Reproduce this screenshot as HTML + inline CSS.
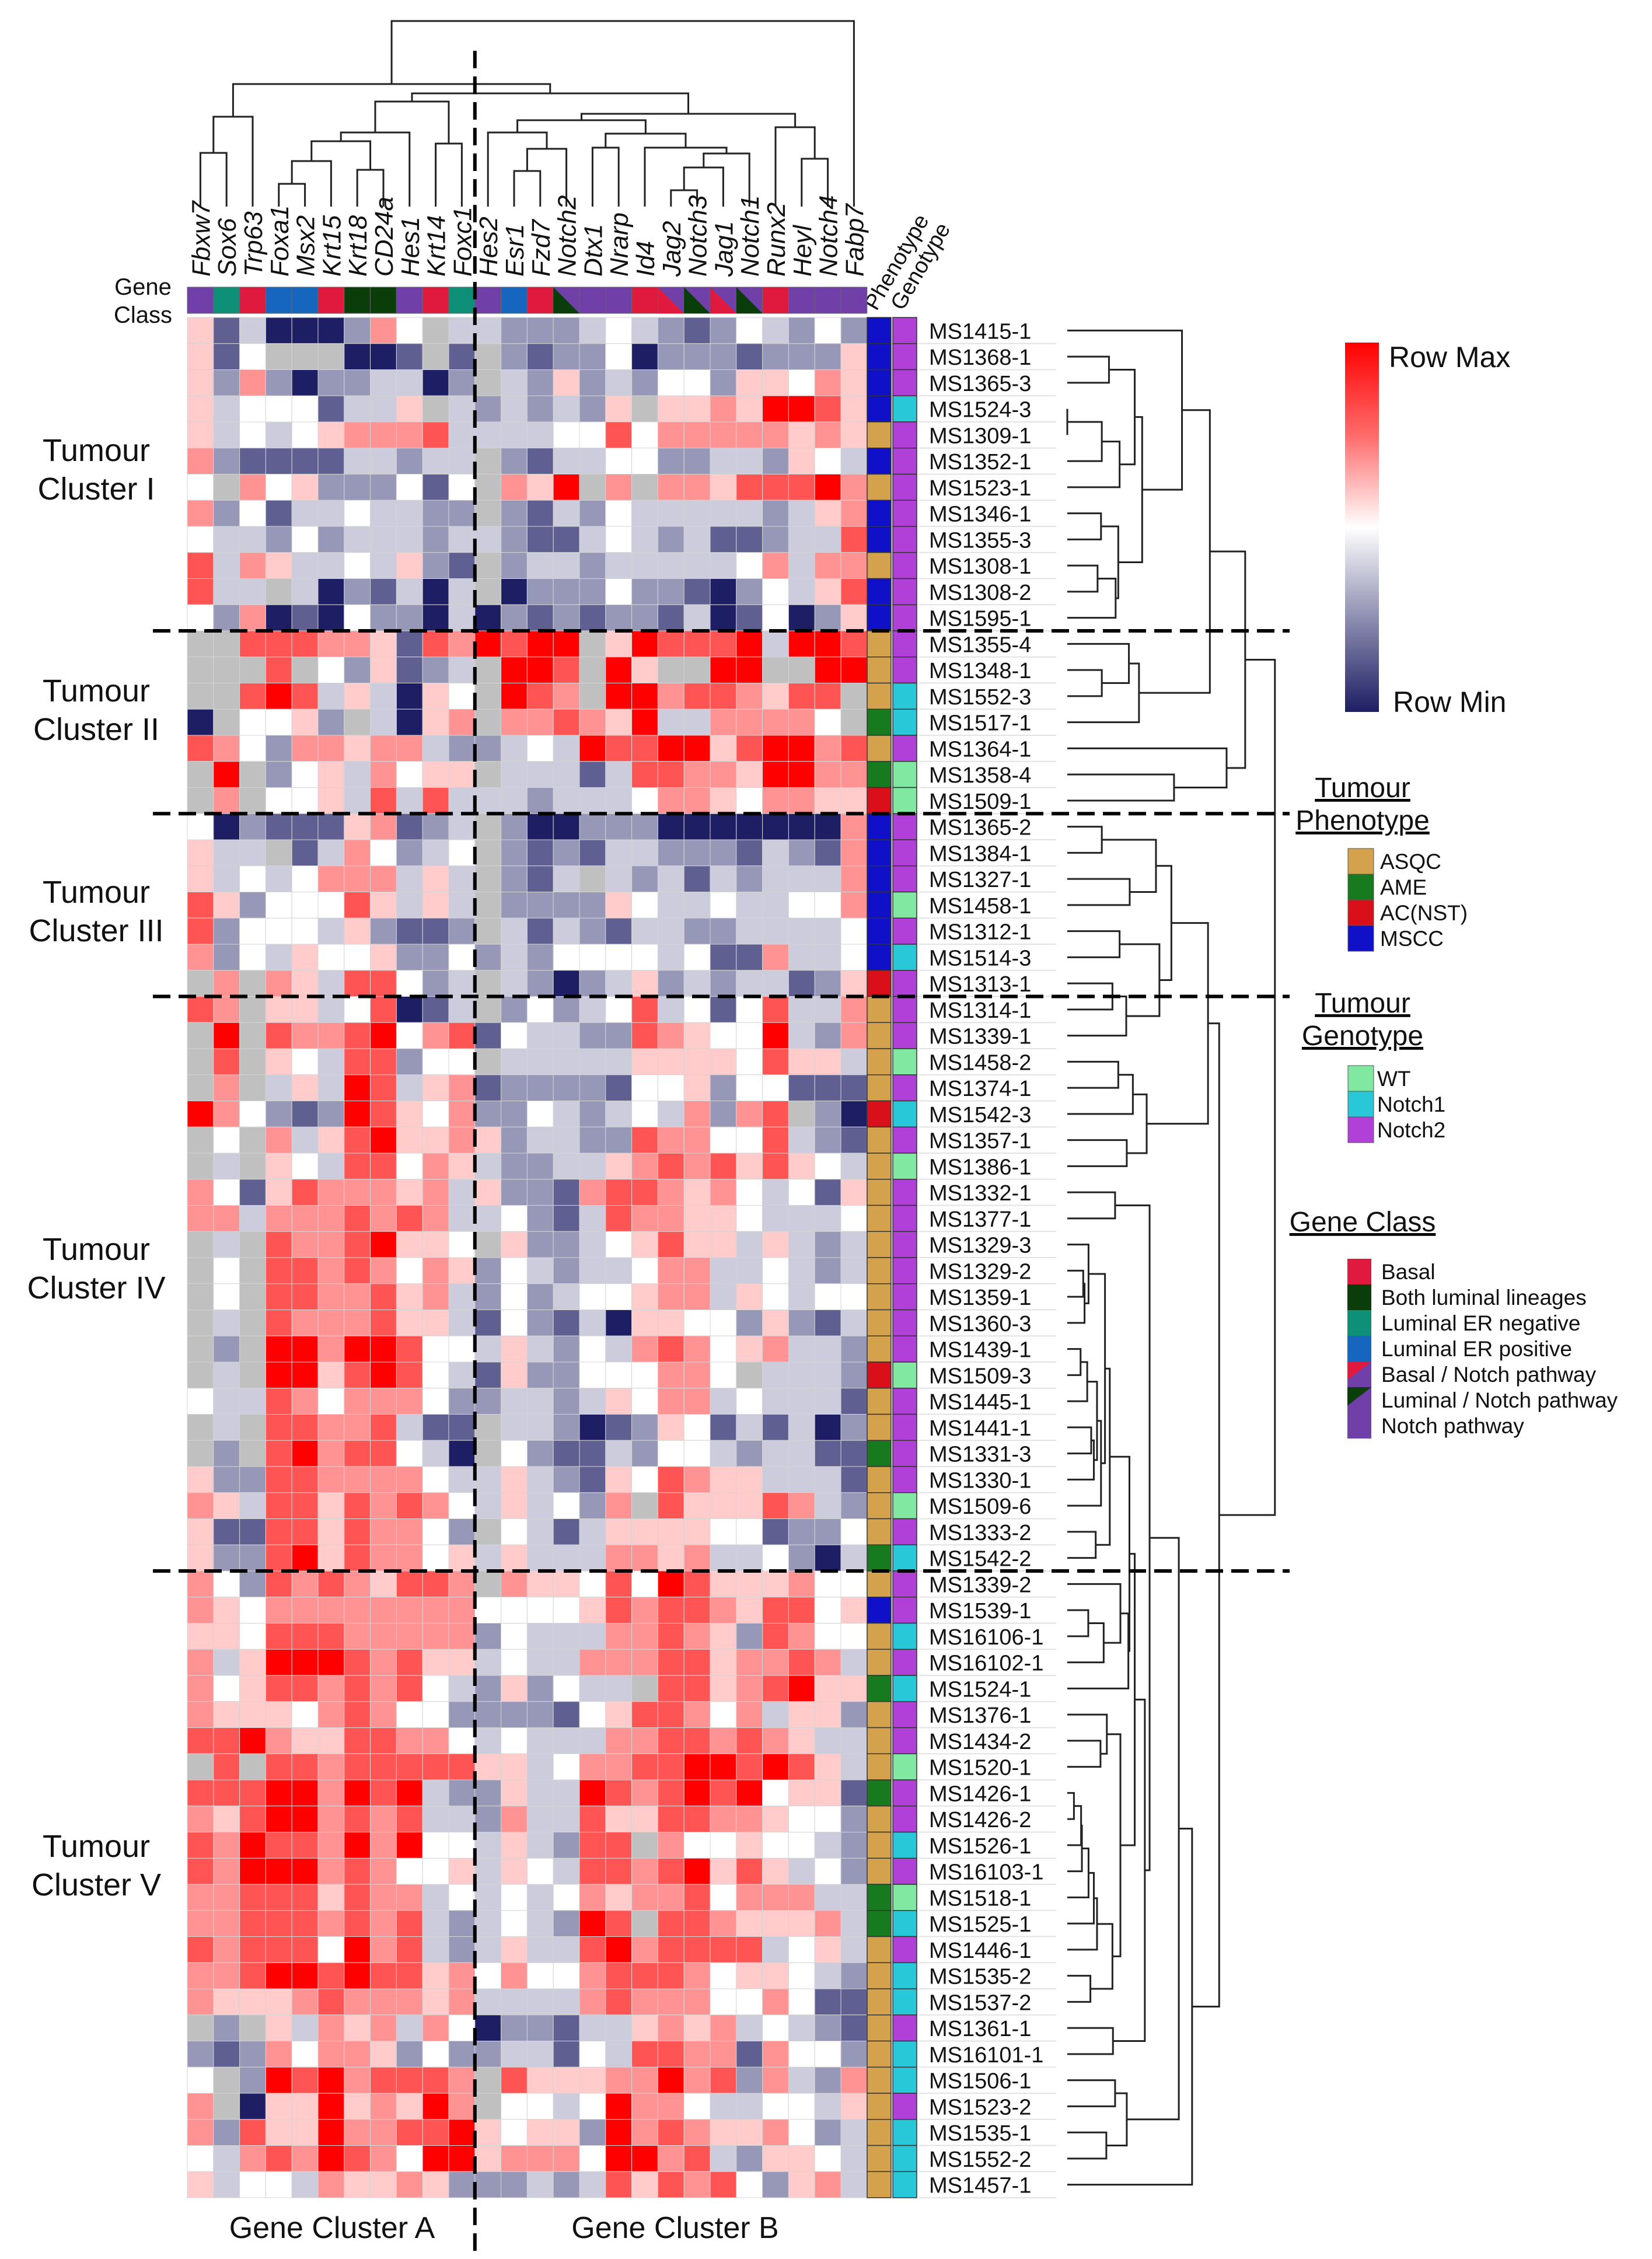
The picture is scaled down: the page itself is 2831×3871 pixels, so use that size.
<!DOCTYPE html>
<html><head><meta charset="utf-8"><style>
html,body{margin:0;padding:0;background:#fff}
svg{display:block}
text{font-family:"Liberation Sans",sans-serif;fill:#111}
</style></head><body>
<svg id="fig" width="2831" height="3871" viewBox="0 0 2831 3871" xmlns="http://www.w3.org/2000/svg">
<g id="left-labels" font-size="54" text-anchor="middle">
<text x="245" y="505" font-size="40">Gene</text>
<text x="245" y="553" font-size="40">Class</text>
<text x="165" y="790">Tumour</text>
<text x="165" y="856">Cluster I</text>
<text x="165" y="1202">Tumour</text>
<text x="165" y="1268">Cluster II</text>
<text x="165" y="1547">Tumour</text>
<text x="165" y="1613">Cluster III</text>
<text x="165" y="2159">Tumour</text>
<text x="165" y="2225">Cluster IV</text>
<text x="165" y="3182">Tumour</text>
<text x="165" y="3248">Cluster V</text>
<text x="569" y="3835" font-size="52">Gene Cluster A</text>
<text x="1157" y="3835" font-size="52">Gene Cluster B</text>
</g>
<g id="legend">
<defs><linearGradient id="cb" x1="0" y1="0" x2="0" y2="1">
<stop offset="0" stop-color="#ff0000"/><stop offset="0.25" stop-color="#ff6a6a"/><stop offset="0.5" stop-color="#ffffff"/><stop offset="0.75" stop-color="#8c8cb0"/><stop offset="1" stop-color="#1e1e64"/></linearGradient></defs>
<rect x="2305" y="587" width="58" height="633" fill="url(#cb)"/>
<text x="2380" y="629" font-size="50">Row Max</text>
<text x="2387" y="1220" font-size="50">Row Min</text>
<g font-size="48" text-anchor="middle" text-decoration="underline">
<text x="2335" y="1366">Tumour</text>
<text x="2335" y="1422">Phenotype</text>
<text x="2335" y="1735">Tumour</text>
<text x="2335" y="1791">Genotype</text>
<text x="2335" y="2110">Gene Class</text>
</g>
<g font-size="37">
<rect x="2310" y="1454" width="44" height="44" fill="#d4a24c" stroke="#555"/><text x="2365" y="1489">ASQC</text>
<rect x="2310" y="1498" width="44" height="44" fill="#177a1f" stroke="#555"/><text x="2365" y="1533">AME</text>
<rect x="2310" y="1542" width="44" height="44" fill="#d9101a" stroke="#555"/><text x="2365" y="1577">AC(NST)</text>
<rect x="2310" y="1586" width="44" height="44" fill="#1010c8" stroke="#555"/><text x="2365" y="1621">MSCC</text>
<rect x="2310" y="1826" width="44" height="44" fill="#80e8a0" stroke="#555"/><text x="2360" y="1861">WT</text>
<rect x="2310" y="1870" width="44" height="44" fill="#28c8d8" stroke="#555"/><text x="2360" y="1905">Notch1</text>
<rect x="2310" y="1914" width="44" height="44" fill="#b040d8" stroke="#555"/><text x="2360" y="1949">Notch2</text>
<rect x="2309" y="2157" width="41" height="44" fill="#e0193f"/><text x="2367" y="2192">Basal</text>
<rect x="2309" y="2201" width="41" height="44" fill="#0a3d0a"/><text x="2367" y="2236">Both luminal lineages</text>
<rect x="2309" y="2245" width="41" height="44" fill="#0e8f78"/><text x="2367" y="2280">Luminal ER negative</text>
<rect x="2309" y="2289" width="41" height="44" fill="#1666c0"/><text x="2367" y="2324">Luminal ER positive</text>
<rect x="2309" y="2333" width="41" height="44" fill="#7040a8"/><polygon points="2309,2333 2350,2333 2309,2365" fill="#e0193f"/><text x="2367" y="2368">Basal / Notch pathway</text>
<rect x="2309" y="2377" width="41" height="44" fill="#7040a8"/><polygon points="2309,2377 2350,2377 2309,2409" fill="#0a3d0a"/><text x="2367" y="2412">Luminal / Notch pathway</text>
<rect x="2309" y="2421" width="41" height="44" fill="#7040a8"/><text x="2367" y="2456">Notch pathway</text>
</g>
<text transform="translate(1502,534) rotate(-60)" font-size="38">Phenotype</text>
<text transform="translate(1547,534) rotate(-60)" font-size="38">Genotype</text>
</g>
<g id="heat"></g>
<g id="annot"></g>
<g id="labels"></g>
<g id="gdend"></g>
<g id="sdend"></g>
<g id="glabels"></g>
<g id="dash"></g>
</svg>
<script>
const genes=["Fbxw7","Sox6","Trp63","Foxa1","Msx2","Krt15","Krt18","CD24a","Hes1","Krt14","Foxc1","Hes2","Esr1","Fzd7","Notch2","Dtx1","Nrarp","Id4","Jag2","Notch3","Jag1","Notch1","Runx2","Heyl","Notch4","Fabp7"];
const geneClass=["N","En","B","Ep","Ep","B","L","L","N","B","En","N","Ep","B","LN","N","N","B","BN","LN","BN","LN","B","N","N","N"];
const samples=["MS1415-1","MS1368-1","MS1365-3","MS1524-3","MS1309-1","MS1352-1","MS1523-1","MS1346-1","MS1355-3","MS1308-1","MS1308-2","MS1595-1","MS1355-4","MS1348-1","MS1552-3","MS1517-1","MS1364-1","MS1358-4","MS1509-1","MS1365-2","MS1384-1","MS1327-1","MS1458-1","MS1312-1","MS1514-3","MS1313-1","MS1314-1","MS1339-1","MS1458-2","MS1374-1","MS1542-3","MS1357-1","MS1386-1","MS1332-1","MS1377-1","MS1329-3","MS1329-2","MS1359-1","MS1360-3","MS1439-1","MS1509-3","MS1445-1","MS1441-1","MS1331-3","MS1330-1","MS1509-6","MS1333-2","MS1542-2","MS1339-2","MS1539-1","MS16106-1","MS16102-1","MS1524-1","MS1376-1","MS1434-2","MS1520-1","MS1426-1","MS1426-2","MS1526-1","MS16103-1","MS1518-1","MS1525-1","MS1446-1","MS1535-2","MS1537-2","MS1361-1","MS16101-1","MS1506-1","MS1523-2","MS1535-1","MS1552-2","MS1457-1"];
const phenotypeRuns=["MMMM","A","M","A","MM","A","MM","AAA","E","A","E","C","MMMMMM","C","AAAA","C","AAAAAAAAA","C","AA","E","AAA","E","A","M","AA","E","AAA","E","AAA","EE","AAAAAAAAAA"];
const genotypeRuns=["222","1","2222222222","11","2","00","222","0","2","1","222","0","2","1","2","0","2222222","0","2222","0","2","1","22","1","2","1","22","0","22","1","2","0","1","2","11","2","11","2","111"];
// expression level per row: 0=row min (navy) .. 4=white .. 8=row max (red), x=missing
const expr=["513000264x3322234321243242","514xxx001x1x21224022212225","52620223302x32523244255465","534441335x3232325x55658875","53434566673333447466666565","62111133233x21334422332543","4x645222414x658x6x66577786","62413343322x21324333332356","43324233323321134323112337","73653343521x23323333346366","733x3021303x02224221024357","42601042203021212213014025","xx7776651768788x5877783887","xxx7x425123x887x85xx88xx88","xx787353054x876x886776577x","0x4452x3056x6676583366664x","76426656632234387788578867","x8x24536455x33313776658866","x6x44537373332333466546655","40211156123x20022200000006","533x1364234x21213322213216","53434666353x213x3231323336","75244475353x22225433433446","72444352112x31321332233334","62435445224232444434116334","x6x65377423x32023523233125","76x55347013x24234734147336","x8x76678467143322765448326","x7x54377244x33333555547553","x6x35387356122221445244111","86421287546224323436267x20","x4x63578556523322766447321","x3x54377465322335676757543","64157666563522167765643415","66366676763342137665543334","x3x76678554x52234575535323","x4x77676465243233466334323","x4x77667563242344566354344","x3x76667553142130554425213","x2x88688744353243676456332","x3x885787431522444664x3332","43376466642233235466343331","x3x77667311x33201254131302","x2x78677430x42113244323311","52277666643353215476553331","65377576764353426x75557632","51177576642x43135555441224","52278576645353336656334203","64276765776x65547487555644","65466666666444457677657745","55477766666243336676527644","63588876755343366677566763","64577676743252433x77567855","65554676442222145776463552","77865577664343336677676533","x7x77677777553466778878753","77788687832253387678784551","65788676733263375577665442","76877686844353277x64454432","76888676445354377678575342","66777576634343465667466633","66777676732343287x77655563","76777486732353378677773453","66788787756464467776455432","65556766656333367666446411","x2x53656364022133565634321","21264665242233143776616442","4x287867776x75556686726326","6x055856586x44348664334435","62755866778545528676556423","43676876488566648867325543","53443655652223237576742563"];
// gene dendrogram nodes: [left, right, height]
const gL012=[[0,1,262],2,200];
const gL310=[[[[[3,4,315],5,276],[6,7,291],242],8,227],[9,10,246],174];
const gR1114=[11,[[12,13,293],14,255],227];
const gR1521=[[15,16,253],[17,[[[18,19,326],20,287],21,263],253],229];
const gR2224=[22,[23,24,272],218];
const gR1124=[[gR1114,gR1521,206],gR2224,195];
const geneTree=[[gL012,[gL310,gR1124,160],144],25,36];
// sample dendrogram nodes: [left, right, merge distance]
const sC1=[0,[[[1,2,157],[[[3,4,0],5,130],6,197],254],[[7,8,127],[[9,10,114],11,182],192],282],432];
const sC2=[[12,[13,14,130],232],15,270];
const sT1=[[sC1,sC2,537],[16,[17,18,402],600],670];
const sC3a=[[19,20,130],[21,22,235],334];
const sC3b=[[23,24,197],[[25,26,170],27,222],347];
const sC3=[[sC3a,sC3b,392],[[[28,29,192],30,247],[31,32,224],299],530];
const sG36=[35,[[36,37,60],38,65],80];
const sG40=[[[[39,40,50],41,75],[[42,43,90],44,100],112],45,127];
const sG3648=[[sG36,sG40,142],[46,47,107],160];
const sG4953=[[48,[[49,50,79],51,137],200],52,230];
const sG5456=[53,[54,55,125],149];
const sG5765=[[[[[[[56,57,25],58,52],59,55],60,80],61,100],62,112],[63,64,87],170];
const sB=[[sG3648,sG4953,234],[sG5456,sG5765,200],254];
const sABC=[[33,34,180],[sB,[65,66,172],292],310];
const sT2=[sC3,[[sABC,[[67,68,180],[69,70,147],224],420],71,470],572];
const sampleTree=[sT1,sT2,782];

const phenotype=phenotypeRuns.join("");
const genotype=genotypeRuns.join("");
const NS="http://www.w3.org/2000/svg";
const X0=321,CW=44.8,Y0=544,RH=44.75;
function colX(i){return X0+i*CW;}
function rowY(i){return Y0+i*RH;}
function lvlColor(c){
  if(c==="x")return "#c0c0c0";
  const lv=+c;
  if(lv<=4){const t=Math.pow(lv/4,0.9);const r=Math.round(30+(255-30)*t),b=Math.round(100+(255-100)*t);return "rgb("+r+","+r+","+b+")";}
  const t=(lv-4)/4;const g=Math.round(255*Math.pow(1-t,0.8));return "rgb(255,"+g+","+g+")";
}
function mk(tag,attrs,parent){const e=document.createElementNS(NS,tag);for(const k in attrs)e.setAttribute(k,attrs[k]);parent.appendChild(e);return e;}
const heatG=document.getElementById("heat");
expr.forEach(function(row,r){
  for(let c=0;c<genes.length;c++){
    const rc=mk("rect",{x:colX(c),y:rowY(r),width:CW,height:RH,fill:lvlColor(row[c]||"x"),stroke:"#d4d4d4","stroke-width":1},heatG);
    
    
  }
});
const phenoCol={A:"#d4a24c",E:"#177a1f",C:"#d9101a",M:"#1010c8"};
const genoCol={"0":"#80e8a0","1":"#28c8d8","2":"#b040d8"};
const annotG=document.getElementById("annot");
for(let r=0;r<samples.length;r++){
  const p=mk("rect",{x:1486,y:rowY(r),width:41,height:RH,fill:phenoCol[phenotype[r]]||"#d4a24c",stroke:"#333","stroke-width":1.5},annotG);
  
  
  const g=mk("rect",{x:1530,y:rowY(r),width:41,height:RH,fill:genoCol[genotype[r]]||"#b040d8",stroke:"#333","stroke-width":1.5},annotG);
  
  
}
const labelsG=document.getElementById("labels");
for(let r=0;r<samples.length;r++){
  mk("line",{x1:1575,x2:1810,y1:rowY(r+1),y2:rowY(r+1),stroke:"#e2e2e2","stroke-width":2},labelsG);
  const t=mk("text",{x:1592,y:rowY(r)+RH/2+14,"font-size":38},labelsG);
  t.textContent=samples[r];
  
  
}
const gcCol={N:"#7040a8",En:"#0e8f78",B:"#e0193f",Ep:"#1666c0",L:"#0a3d0a",BN:"#7040a8",LN:"#7040a8"};
const glG=document.getElementById("glabels");
genes.forEach(function(gname,i){
  const x=colX(i),y=492,h=45;
  const rc=mk("rect",{x:x,y:y,width:CW,height:h,fill:gcCol[geneClass[i]],stroke:"#666","stroke-width":1},glG);
  
  
  if(geneClass[i]==="BN"||geneClass[i]==="LN"){
    mk("polygon",{points:x+","+y+" "+x+","+(y+h)+" "+(x+CW)+","+(y+h),fill:geneClass[i]==="BN"?"#e0193f":"#0a3d0a"},glG);
  }
  const t=mk("text",{transform:"translate("+(x+CW/2+16)+",474) rotate(-90)","font-size":44,"font-style":"italic"},glG);
  t.textContent=gname;
  
  
});
const gdG=document.getElementById("gdend");
function drawG(n){
  if(typeof n==="number")return {x:colX(n)+CW/2,y:354};
  const a=drawG(n[0]),b=drawG(n[1]),h=n[2];
  const p=mk("path",{d:"M"+a.x+","+a.y+"V"+h+"H"+b.x+"V"+b.y,fill:"none",stroke:"#222","stroke-width":3},gdG);
  
  
  return {x:(a.x+b.x)/2,y:h};
}
drawG(geneTree);
const sdG=document.getElementById("sdend");
const DX0=1829,DS=0.455;
function drawS(n){
  if(typeof n==="number")return {x:DX0,y:rowY(n)+RH/2};
  const a=drawS(n[0]),b=drawS(n[1]),hx=DX0+n[2]*DS;
  const p=mk("path",{d:"M"+a.x+","+a.y+"H"+hx+"V"+b.y+"H"+b.x,fill:"none",stroke:"#222","stroke-width":3},sdG);
  
  
  return {x:hx,y:(a.y+b.y)/2};
}
drawS(sampleTree);
const dashG=document.getElementById("dash");
[12,19,26,48].forEach(function(k){
  const l=mk("line",{x1:262,x2:2210,y1:rowY(k),y2:rowY(k),stroke:"#000","stroke-width":6,"stroke-dasharray":"30 14"},dashG);
  
  
});
const vline=mk("line",{x1:colX(11),x2:colX(11),y1:87,y2:3866,stroke:"#000","stroke-width":6,"stroke-dasharray":"30 14"},dashG);


</script>
</body></html>
